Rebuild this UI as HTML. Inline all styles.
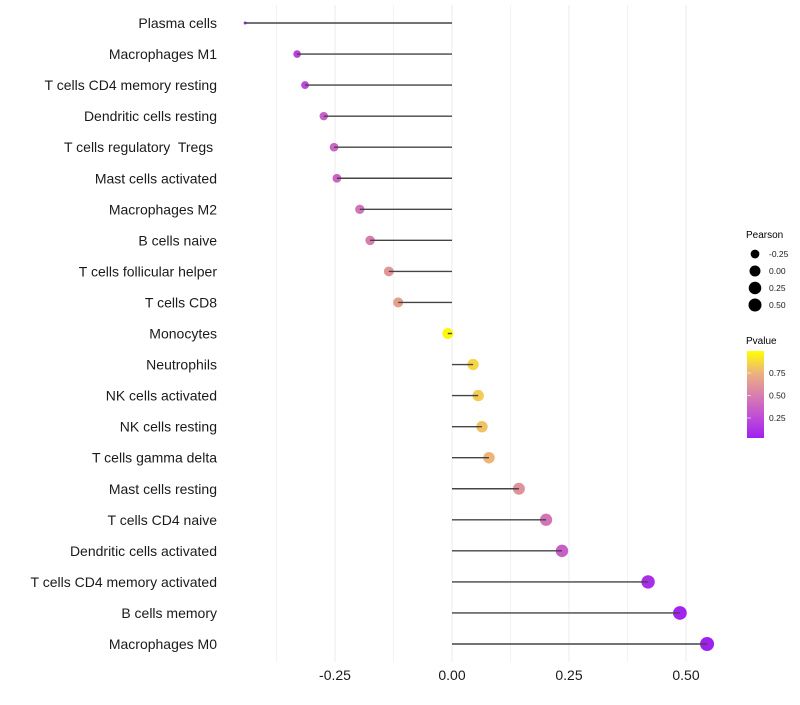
<!DOCTYPE html>
<html><head><meta charset="utf-8"><style>
body{margin:0;background:#fff;font-family:"Liberation Sans",Arial,sans-serif}
text{white-space:pre}
</style></head><body>
<svg id="chart" width="800" height="700" xmlns="http://www.w3.org/2000/svg" font-family="Liberation Sans, Arial, sans-serif">
<defs><linearGradient id="pg" x1="0" y1="1" x2="0" y2="0">
<stop offset="0" stop-color="#A020F0"/><stop offset="0.25" stop-color="#C04FD6"/><stop offset="0.5" stop-color="#D97FAE"/><stop offset="0.75" stop-color="#EDB37C"/><stop offset="1" stop-color="#FFFF00"/></linearGradient></defs>
<g id="grid"></g>
<g id="marks"></g>
<g id="labels"></g>
<g id="xticks"></g>
<g>
<text x="746" y="238" font-size="10">Pearson</text>
<g id="sizeleg"></g></g>
<g>
<text x="746" y="344" font-size="10">Pvalue</text>
<rect x="747" y="351" width="17" height="87" fill="url(#pg)"/>
<g id="colleg"></g></g>
</svg>
<script>
const cells=["Plasma cells","Macrophages M1","T cells CD4 memory resting","Dendritic cells resting","T cells regulatory  Tregs ","Mast cells activated","Macrophages M2","B cells naive","T cells follicular helper","T cells CD8","Monocytes","Neutrophils","NK cells activated","NK cells resting","T cells gamma delta","Mast cells resting","T cells CD4 naive","Dendritic cells activated","T cells CD4 memory activated","B cells memory","Macrophages M0"];
const pearson=[-0.442,-0.331,-0.314,-0.274,-0.252,-0.246,-0.197,-0.175,-0.135,-0.115,-0.009,0.045,0.056,0.064,0.079,0.143,0.201,0.235,0.419,0.487,0.545];
const pvalue=[0.04,0.2,0.25,0.35,0.38,0.38,0.45,0.5,0.62,0.67,0.97,0.86,0.83,0.8,0.76,0.6,0.45,0.35,0.1,0.05,0.03];
const xTicks=[-0.25,0,0.25,0.5];
const xTickLabels=["-0.25","0.00","0.25","0.50"];
const sizeLegVals=[-0.25,0,0.25,0.5];
const colLegVals=[0.25,0.5,0.75];
const NS="http://www.w3.org/2000/svg";
const X=v=>452+v*468;
const Y=i=>23+i*31.05;
const pMin=Math.min(...pearson),pMax=Math.max(...pearson);
const R=v=>1.5+5.5*Math.pow(Math.max(0,(v-pMin)/(pMax-pMin)),0.4);
const stops=[[0,[160,32,240]],[0.25,[192,79,214]],[0.5,[217,127,174]],[0.75,[237,179,124]],[1,[255,255,0]]];
function col(p){const t=(p-0.03)/(0.995-0.03);const c=Math.max(0,Math.min(1,t));
for(let k=1;k<stops.length;k++){if(c<=stops[k][0]){const a=stops[k-1],b=stops[k],f=(c-a[0])/(b[0]-a[0]);
return "rgb("+a[1].map((x,j)=>Math.round(x+(b[1][j]-x)*f)).join(",")+")";}}return "rgb(255,255,0)";}
function mk(tag,attrs,parent){const e=document.createElementNS(NS,tag);for(const k in attrs)e.setAttribute(k,attrs[k]);document.getElementById(parent).appendChild(e);return e;}
for(let g=-0.375;g<=0.5;g+=0.125){const l=mk("line",{x1:X(g),x2:X(g),y1:5,y2:662,stroke:"#ebebeb","stroke-width":Math.abs(g*4-Math.round(g*4))<1e-6?1:0.6},"grid");

}
cells.forEach((c,i)=>{
const t=mk("text",{x:217,y:Y(i)+5,"text-anchor":"end","font-size":14,fill:"#1a1a1a"},"labels");t.textContent=c;


const p=mk("circle",{cx:X(pearson[i]),cy:Y(i),r:R(pearson[i]),fill:col(pvalue[i])},"marks");


const s=mk("line",{x1:X(0),x2:X(pearson[i]),y1:Y(i),y2:Y(i),stroke:"#444","stroke-width":1.4},"marks");


});
xTicks.forEach((v,i)=>{const t=mk("text",{x:X(v),y:680,"text-anchor":"middle","font-size":14,fill:"#1a1a1a"},"xticks");t.textContent=xTickLabels[i];

});
sizeLegVals.forEach((v,i)=>{const y=254+i*17;
const c=mk("circle",{cx:755,cy:y,r:Math.min(6.5,R(v)),fill:"#000"},"sizeleg");


const t=mk("text",{x:769,y:y+3,"font-size":8.5,fill:"#1a1a1a"},"sizeleg");t.textContent=v.toFixed(2);

});
colLegVals.forEach(v=>{const y=440.5-v*90;
const t=mk("text",{x:769,y:y+3,"font-size":8.5,fill:"#1a1a1a"},"colleg");t.textContent=v.toFixed(2);


const l=mk("line",{x1:747,x2:751,y1:y,y2:y,stroke:"#fff","stroke-width":0.6},"colleg");

});
</script>
</body></html>
